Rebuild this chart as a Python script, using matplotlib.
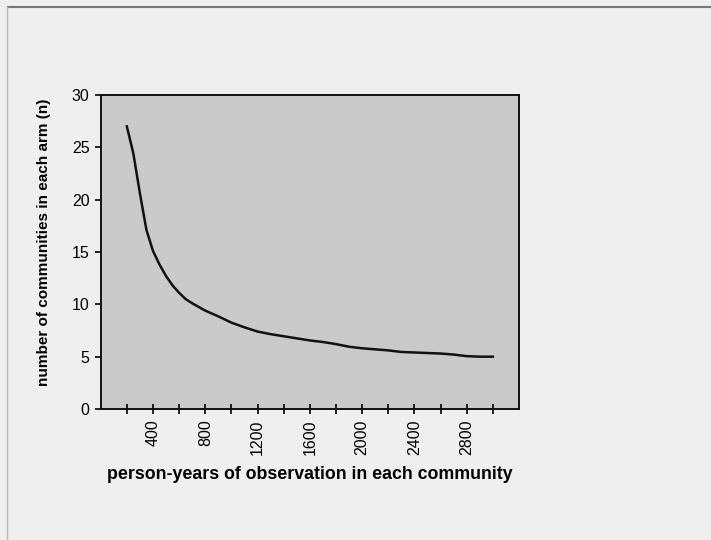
import numpy as np
import matplotlib
matplotlib.use("Agg")
import matplotlib.pyplot as plt
from matplotlib.lines import Line2D

# person-years per community and the number of communities needed per arm
person_years = [200, 250, 300, 350, 400, 450, 500, 550, 600, 650, 700, 800, 900, 1000,
                1100, 1200, 1300, 1400, 1500, 1600, 1700, 1800, 1900, 2000, 2100,
                2200, 2300, 2400, 2500, 2600, 2700, 2800, 2900, 3000]
n_communities = [27.0, 24.4, 20.6, 17.1, 15.1, 13.8, 12.7, 11.8, 11.1, 10.5, 10.1, 9.4, 8.85,
                 8.25, 7.8, 7.4, 7.15, 6.95, 6.75, 6.55, 6.4, 6.2, 5.95, 5.8, 5.7,
                 5.6, 5.45, 5.4, 5.35, 5.3, 5.2, 5.05, 5.0, 5.0]

x_labelled = [400, 800, 1200, 1600, 2000, 2400, 2800]
y_ticks = [0, 5, 10, 15, 20, 25, 30]

plt.rcParams['font.family'] = ['Liberation Sans', 'DejaVu Sans']

fig = plt.figure(figsize=(7.11, 5.4), dpi=100)
fig.patch.set_facecolor('#efefef')

# frame lines around the page
fig.add_artist(Line2D([8 / 711, 1.0], [1 - 7 / 540, 1 - 7 / 540], color='#777777', lw=1.5))
fig.add_artist(Line2D([7 / 711, 7 / 711], [0.0, 1 - 7 / 540], color='#bbbbbb', lw=1.0))

ax = fig.add_axes([100.7 / 711, 1 - 409 / 540, (519 - 100.7) / 711, (409 - 95) / 540])
ax.set_facecolor('#cacaca')

ax.plot(person_years, n_communities, color='#111111', lw=1.8)

ticks = np.arange(200, 3200, 200)
ax.set_xlim(0, 3200)
ax.set_ylim(0, 30)
ax.set_xticks(ticks)
ax.set_xticklabels([str(v) if v in x_labelled else '' for v in ticks], rotation=90)
ax.set_yticks(y_ticks)

for s in ax.spines.values():
    s.set_color('#111111')
    s.set_linewidth(1.4)

ax.tick_params(axis='x', direction='inout', length=7, width=1.2, labelsize=11.5, pad=4)
ax.tick_params(axis='y', direction='out', length=4, width=1.2, labelsize=11.5, pad=4)

ax.set_xlabel('person-years of observation in each community', fontsize=12.8,
              fontweight='bold', labelpad=8)
ax.set_ylabel('number of communities in each arm (n)', fontsize=11,
              fontweight='bold')
ax.yaxis.set_label_coords(-0.118, 0.53)

fig.savefig('out.png', dpi=100, facecolor=fig.get_facecolor())
